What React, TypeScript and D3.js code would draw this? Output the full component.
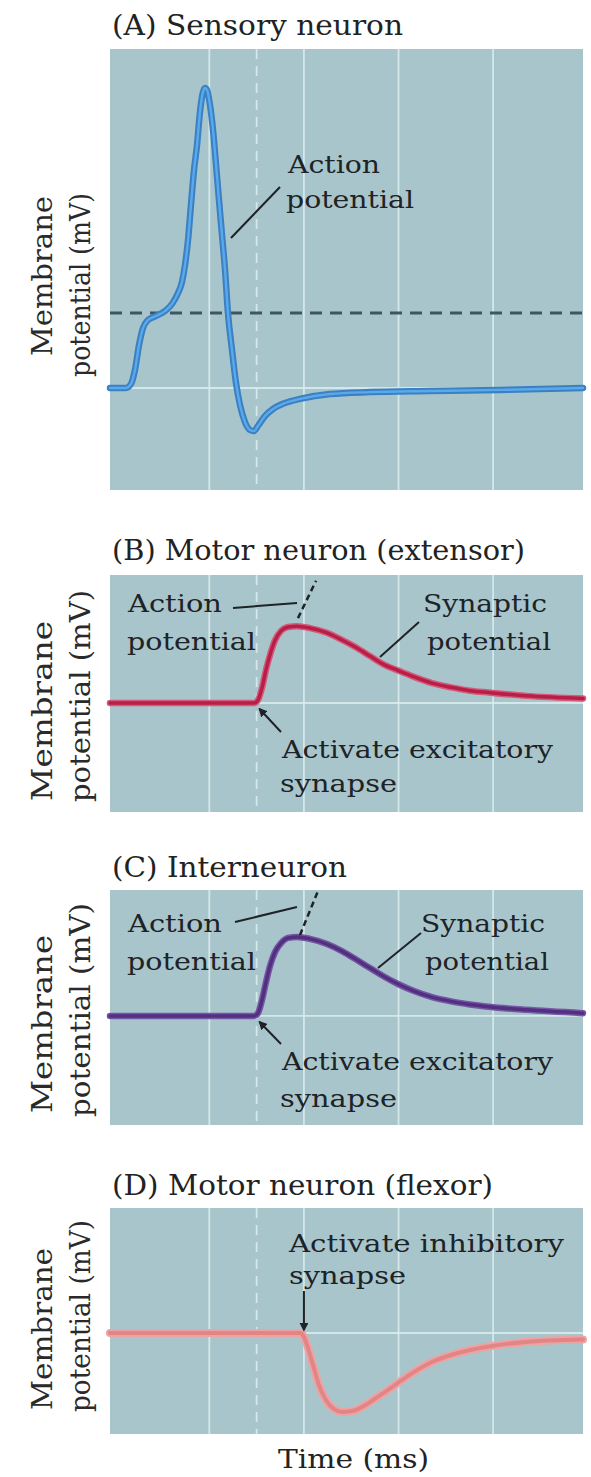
import React from "react";
import * as d3 from "d3";

// Time axis shared by every panel (ms)
const timeDomain: [number, number] = [-0.5, 49.5];
const gridTimes = [10, 20, 30, 40];
const dashedGridTime = 15;
const restPotential = -70;
const thresholdA = -42.5;

// (A) Sensory neuron: action potential [t ms, Vm mV]
const sensoryTrace: [number, number][] = [
  [-0.5, -70], [1.19, -70], [1.72, -68.5], [2.14, -63.4], [2.57, -54.2], [2.99, -48],
  [3.52, -45.1], [4.36, -43.6], [5.31, -41.8], [6.05, -39.2], [6.69, -35.2], [7.11, -31.1],
  [7.43, -24.9], [7.75, -15.7], [8.06, -2.9], [8.38, 9.9], [8.7, 19.1], [9.01, 31.2],
  [9.33, 38.5], [9.54, 40], [9.75, 39.3], [10.07, 33.8], [10.39, 24.6], [10.71, 11.8],
  [11.02, -1.1], [11.34, -13.9], [11.66, -26.7], [11.97, -42.5], [12.4, -56.1], [12.82, -68.2],
  [13.24, -76.2], [13.77, -82.5], [14.3, -85.4], [14.72, -85.8], [15.14, -83.9], [15.88, -80.3],
  [16.73, -77.7], [18.0, -75.5], [19.58, -74], [22.76, -72.2], [26.98, -71.5], [33.33, -71.1],
  [40.73, -70.7], [49.5, -70],
];

// (B) Motor neuron (extensor): excitatory synaptic potential
const extensorTrace: [number, number][] = [
  [-0.5, -70], [14.72, -70], [15.14, -69.4], [15.57, -66.8], [15.99, -63.0], [16.41, -59.9],
  [16.94, -56.8], [17.58, -54.8], [18.32, -53.96], [19.27, -53.8], [20.64, -54.2], [22.44, -55.2],
  [24.02, -56.7], [25.61, -58.4], [26.98, -60.1], [28.36, -61.8], [29.94, -63.14], [31.64, -64.5],
  [33.54, -65.8], [35.55, -66.7], [37.56, -67.4], [39.56, -67.8], [43.47, -68.5], [49.5, -69.05],
];

// (C) Interneuron: excitatory synaptic potential
const interneuronTrace: [number, number][] = [
  [-0.5, -70], [14.72, -70], [15.14, -69.4], [15.57, -66.6], [15.99, -62.8], [16.41, -59.4],
  [16.94, -56.4], [17.58, -54.5], [18.32, -53.4], [19.27, -53.2], [20.64, -53.6], [22.44, -54.7],
  [24.02, -56.2], [25.61, -58.1], [26.98, -59.8], [28.36, -61.5], [29.94, -63.2], [31.64, -64.7],
  [33.54, -66.0], [35.55, -66.9], [37.56, -67.55], [39.56, -68.04], [43.47, -68.7], [49.5, -69.4],
];

// (D) Motor neuron (flexor): inhibitory synaptic potential
const flexorTrace: [number, number][] = [
  [-0.5, -70], [19.58, -70], [20.01, -70.85], [20.43, -73.2], [20.96, -76.8], [21.59, -81.1],
  [22.33, -84.3], [23.18, -86.2], [24.02, -86.8], [25.08, -86.6], [26.35, -85.5], [27.62, -83.83],
  [28.89, -82.13], [30.16, -80.32], [31.64, -78.3], [33.54, -76.17], [35.55, -74.68],
  [37.56, -73.62], [39.56, -72.87], [43.47, -71.91], [49.5, -71.38],
];

// Dashed continuation of the action potential that rides on the EPSP
const spikeB: [number, number][] = [[19.37, -52.1], [21.28, -44.2]];
const spikeC: [number, number][] = [[19.58, -52.8], [21.49, -43.4]];

const titles = [
  "(A)  Sensory neuron",
  "(B)  Motor neuron (extensor)",
  "(C)  Interneuron",
  "(D)  Motor neuron (flexor)",
];

const FONT = "'DejaVu Serif', 'Liberation Serif', serif";
const INK = "#1d2326";
const BG = "#a9c5cc";
const GRID = "#d9ecee";

const X0 = 110;
const X1 = 583;
const x = d3.scaleLinear().domain(timeDomain).range([X0, X1]);

type Stroke = { outer: string; inner: string; wo: number; wi: number };

type PanelSpec = {
  top: number;
  bottom: number;
  yDomain: [number, number];
  trace: [number, number][];
  stroke: Stroke;
  title: string;
  titleY: number;
  titleW: number;
  yLabel: { c1: number; l1: number; c2: number; l2: number };
};

const panels: PanelSpec[] = [
  {
    top: 49, bottom: 490, yDomain: [-107.4, 54.3], trace: sensoryTrace,
    stroke: { outer: "#3b80c3", inner: "#5aa9ea", wo: 6.5, wi: 2.4 },
    title: titles[0], titleY: 35, titleW: 291,
    yLabel: { c1: 276, l1: 160, c2: 285, l2: 184 },
  },
  {
    top: 575, bottom: 812, yDomain: [-93, -43], trace: extensorTrace,
    stroke: { outer: "#d45a7c", inner: "#b81f46", wo: 6.5, wi: 3.5 },
    title: titles[1], titleY: 560, titleW: 413,
    yLabel: { c1: 711, l1: 180, c2: 696, l2: 212 },
  },
  {
    top: 890, bottom: 1125, yDomain: [-93.2, -43.2], trace: interneuronTrace,
    stroke: { outer: "#7656a6", inner: "#52307f", wo: 6.5, wi: 3.5 },
    title: titles[2], titleY: 877, titleW: 235,
    yLabel: { c1: 1024, l1: 178, c2: 1010, l2: 214 },
  },
  {
    top: 1208, bottom: 1434, yDomain: [-91.5, -43.4], trace: flexorTrace,
    stroke: { outer: "#eea2a2", inner: "#e28587", wo: 8, wi: 4 },
    title: titles[3], titleY: 1195, titleW: 381,
    yLabel: { c1: 1329, l1: 162, c2: 1316, l2: 192 },
  },
];

function Label(props: { x: number; y: number; w: number; size?: number; fill?: string; children: string }) {
  return (
    <text
      x={props.x}
      y={props.y}
      fontSize={props.size ?? 24}
      fontFamily={FONT}
      fill={props.fill ?? INK}
      textLength={props.w}
      lengthAdjust="spacingAndGlyphs"
    >
      {props.children}
    </text>
  );
}

function scaleFor(p: PanelSpec) {
  return d3.scaleLinear().domain(p.yDomain).range([p.bottom, p.top]);
}

function Panel({ p, children }: { p: PanelSpec; children?: React.ReactNode }) {
  const y = scaleFor(p);
  const line = d3
    .line<[number, number]>()
    .x((d) => x(d[0]))
    .y((d) => y(d[1]))
    .curve(d3.curveMonotoneX);
  const path = line(p.trace) ?? "";
  return (
    <g>
      <Label x={112} y={p.titleY} w={p.titleW} size={27} fill="#222">
        {p.title}
      </Label>
      <rect x={X0} y={p.top} width={X1 - X0} height={p.bottom - p.top} fill={BG} />
      {gridTimes.map((t) => (
        <line key={t} x1={x(t)} x2={x(t)} y1={p.top} y2={p.bottom} stroke={GRID} strokeWidth={1.8} opacity={0.9} />
      ))}
      <line
        x1={x(dashedGridTime)} x2={x(dashedGridTime)} y1={p.top} y2={p.bottom}
        stroke={GRID} strokeWidth={1.8} strokeDasharray="10 7" opacity={0.9}
      />
      <line x1={X0} x2={X1} y1={y(restPotential)} y2={y(restPotential)} stroke={GRID} strokeWidth={1.8} opacity={0.9} />
      {/* y-axis label */}
      <g transform={`translate(52,${p.yLabel.c1}) rotate(-90)`}>
        <text textAnchor="middle" fontSize={27} fontFamily={FONT} fill="#2a2a2a" textLength={p.yLabel.l1} lengthAdjust="spacingAndGlyphs">
          Membrane
        </text>
      </g>
      <g transform={`translate(90,${p.yLabel.c2}) rotate(-90)`}>
        <text textAnchor="middle" fontSize={27} fontFamily={FONT} fill="#2a2a2a" textLength={p.yLabel.l2} lengthAdjust="spacingAndGlyphs">
          potential (mV)
        </text>
      </g>
      {children}
      <path d={path} fill="none" stroke={p.stroke.outer} strokeWidth={p.stroke.wo} strokeLinejoin="round" strokeLinecap="round" />
      <path d={path} fill="none" stroke={p.stroke.inner} strokeWidth={p.stroke.wi} strokeLinejoin="round" strokeLinecap="round" />
    </g>
  );
}

function Arrow({ x1, y1, x2, y2 }: { x1: number; y1: number; x2: number; y2: number }) {
  return <line x1={x1} y1={y1} x2={x2} y2={y2} stroke={INK} strokeWidth={2} markerEnd="url(#arrowhead)" />;
}

function Leader({ x1, y1, x2, y2 }: { x1: number; y1: number; x2: number; y2: number }) {
  return <line x1={x1} y1={y1} x2={x2} y2={y2} stroke={INK} strokeWidth={2} />;
}

export default function App() {
  const [pA, pB, pC, pD] = panels;
  const yA = scaleFor(pA);
  const yB = scaleFor(pB);
  const yC = scaleFor(pC);
  const yD = scaleFor(pD);
  return (
    <svg
      width={591}
      height={1477}
      viewBox="0 0 591 1477"
      style={{ position: "absolute", left: 0, top: 0, background: "#fff" }}
    >
      <defs>
        <marker id="arrowhead" viewBox="0 0 10 10" refX={8} refY={5} markerWidth={4.5} markerHeight={4.5} orient="auto">
          <path d="M0,0 L10,5 L0,10 z" fill={INK} />
        </marker>
      </defs>

      {/* (A) */}
      <Panel p={pA}>
        <line
          x1={X0} x2={X1} y1={yA(thresholdA)} y2={yA(thresholdA)}
          stroke="#3e5660" strokeWidth={3} strokeDasharray="12 8"
        />
      </Panel>
      <Label x={288} y={173} w={92}>Action</Label>
      <Label x={286} y={208} w={128}>potential</Label>
      <Leader x1={280} y1={187} x2={231} y2={238} />

      {/* (B) */}
      <Panel p={pB} />
      <line
        x1={x(spikeB[0][0])} y1={yB(spikeB[0][1])} x2={x(spikeB[1][0])} y2={yB(spikeB[1][1])}
        stroke={INK} strokeWidth={2.5} strokeDasharray="6 4"
      />
      <Label x={128} y={612} w={94}>Action</Label>
      <Label x={127} y={650} w={129}>potential</Label>
      <Leader x1={233} y1={608} x2={297} y2={603} />
      <Label x={423} y={612} w={124}>Synaptic</Label>
      <Label x={427} y={650} w={124}>potential</Label>
      <Leader x1={419} y1={622} x2={380} y2={657} />
      <Label x={282} y={758} w={271}>Activate excitatory</Label>
      <Label x={280} y={792} w={117}>synapse</Label>
      <Arrow x1={281} y1={732} x2={x(15) + 3} y2={yB(restPotential) + 6} />

      {/* (C) */}
      <Panel p={pC} />
      <line
        x1={x(spikeC[0][0])} y1={yC(spikeC[0][1])} x2={x(spikeC[1][0])} y2={yC(spikeC[1][1])}
        stroke={INK} strokeWidth={2.5} strokeDasharray="6 4"
      />
      <Label x={128} y={932} w={94}>Action</Label>
      <Label x={127} y={970} w={129}>potential</Label>
      <Leader x1={235} y1={922} x2={297} y2={907} />
      <Label x={421} y={932} w={124}>Synaptic</Label>
      <Label x={425} y={970} w={124}>potential</Label>
      <Leader x1={421} y1={933} x2={378} y2={968} />
      <Label x={282} y={1070} w={271}>Activate excitatory</Label>
      <Label x={280} y={1107} w={117}>synapse</Label>
      <Arrow x1={281} y1={1044} x2={x(15) + 3} y2={yC(restPotential) + 6} />

      {/* (D) */}
      <Panel p={pD} />
      <Label x={289} y={1252} w={275}>Activate inhibitory</Label>
      <Label x={289} y={1284} w={117}>synapse</Label>
      <Arrow x1={x(20)} y1={1291} x2={x(20)} y2={yD(restPotential) - 3} />

      <Label x={278} y={1468} w={151} size={26} fill="#222">Time (ms)</Label>
    </svg>
  );
}
